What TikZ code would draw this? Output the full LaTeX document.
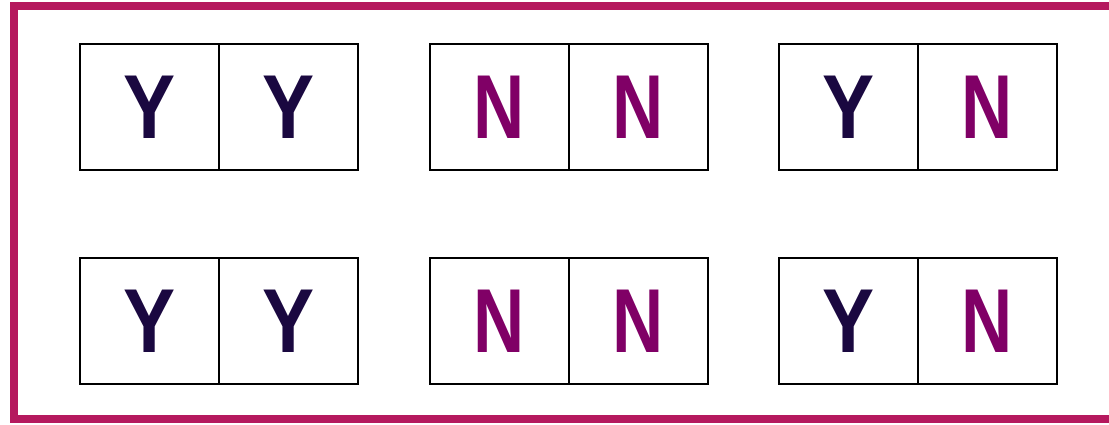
\documentclass[tikz,border=0pt]{standalone}
\usepackage{fontspec}
\setmainfont{Liberation Sans}
\definecolor{framec}{HTML}{B5195E}
\definecolor{yesc}{HTML}{1A0840}
\definecolor{noc}{HTML}{800066}
\newcommand{\bigletter}[2]{\scalebox{#1}[1]{\fontsize{90.8pt}{90.8pt}\selectfont\bfseries #2}}
\newcommand{\yy}{\bigletter{0.86}{Y}}
\newcommand{\nn}{\bigletter{0.78}{N}}
\begin{document}
\begin{tikzpicture}[x=1pt,y=-1pt,
  cell/.style={draw=black, line width=2.8pt, minimum width=139pt, minimum height=126pt, inner sep=0pt, anchor=center},
  yes/.style={text=yesc, font=\bfseries},
  no/.style={text=noc, font=\bfseries}]
\useasboundingbox (0,0) rectangle (1109,425);
\clip (0,0) rectangle (1109,425);
\fill[white] (0,0) rectangle (1109,425);
\coordinate (ftr) at (1112,6);
\coordinate (ftl) at (14,6);
\coordinate (fbl) at (14,419);
\coordinate (fbr) at (1112,419);
\draw[framec, line width=8pt] (ftr) -- (ftl) -- (fbl) -- (fbr);
% row 1
\node[cell,yes] (a1) at (149.5,107) {\yy};
\node[cell,yes] (a2) at (288.5,107) {\yy};
\node[cell,no]  (b1) at (499.5,107) {\nn};
\node[cell,no]  (b2) at (638.5,107) {\nn};
\node[cell,yes] (c1) at (848.5,107) {\yy};
\node[cell,no]  (c2) at (987.5,107) {\nn};
% row 2
\node[cell,yes] (d1) at (149.5,321) {\yy};
\node[cell,yes] (d2) at (288.5,321) {\yy};
\node[cell,no]  (e1) at (499.5,321) {\nn};
\node[cell,no]  (e2) at (638.5,321) {\nn};
\node[cell,yes] (f1) at (848.5,321) {\yy};
\node[cell,no]  (f2) at (987.5,321) {\nn};
\end{tikzpicture}
\end{document}
